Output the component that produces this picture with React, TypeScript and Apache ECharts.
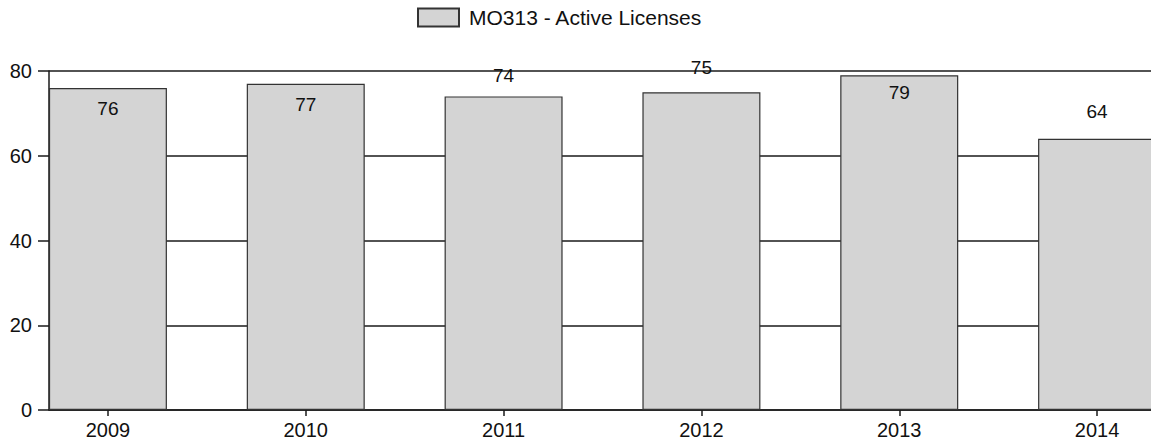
import React, { useEffect, useRef } from "react";
import * as echarts from "echarts";

const years = ["2009", "2010", "2011", "2012", "2013", "2014"];
const activeLicenses = [76, 77, 74, 75, 79, 64];
const seriesName = "MO313 - Active Licenses";
// label placement per bar (inside the bar top or above it), as in the reference
const labelInside = [true, true, false, false, true, false];
const labelDistance = [11, 11, 11, 15, 8, 18];

export default function App() {
  const ref = useRef<HTMLDivElement>(null);
  useEffect(() => {
    if (!ref.current) return;
    const chart = echarts.init(ref.current, undefined, { renderer: "svg" });
    const font = "'Liberation Sans', Arial, sans-serif";
    const black = "#1a1a1a";
    chart.setOption({
      animation: false,
      backgroundColor: "#ffffff",
      textStyle: { fontFamily: font },
      legend: {
        left: 417,
        top: 7,
        padding: 0,
        itemWidth: 41,
        itemHeight: 18,
        icon: "rect",
        textStyle: { fontSize: 21, color: "#111", padding: [0, 0, 0, 5], fontFamily: font },
        data: [seriesName],
      },
      grid: [
        { left: 49, right: 0, top: 71, bottom: 37, outerBoundsMode: "none", containLabel: false },
        { left: 9, right: -45, top: 71, bottom: 37, outerBoundsMode: "none", containLabel: false },
      ],
      xAxis: [
        {
          gridIndex: 0,
          type: "value",
          min: 0,
          max: 1,
          axisLine: { show: true, lineStyle: { color: black, width: 1.5 } },
          axisTick: { show: false },
          axisLabel: { show: false },
          splitLine: { show: false },
        },
        {
          gridIndex: 1,
          type: "category",
          data: years,
          boundaryGap: true,
          axisLine: { show: false },
          axisTick: { show: true, alignWithLabel: true, length: 6, lineStyle: { color: black, width: 1.5 } },
          axisLabel: { fontSize: 20, color: "#111", margin: 10, fontFamily: font },
          splitLine: { show: false },
        },
      ],
      yAxis: [
        {
          gridIndex: 0,
          type: "value",
          min: 0,
          max: 80,
          interval: 20,
          axisLine: { show: true, lineStyle: { color: black, width: 1.5 } },
          axisTick: { show: true, length: 11, lineStyle: { color: black, width: 1.5 } },
          axisLabel: { fontSize: 20, color: "#111", margin: 17, fontFamily: font },
          splitLine: { show: true, lineStyle: { color: black, width: 1.5 } },
        },
        {
          gridIndex: 1,
          type: "value",
          min: 0,
          max: 80,
          show: false,
        },
      ],
      series: [
        {
          name: seriesName,
          type: "bar",
          xAxisIndex: 1,
          yAxisIndex: 1,
          barWidth: 118,
          itemStyle: { color: "#d4d4d4", borderColor: "#333333", borderWidth: 1.2 },
          data: activeLicenses.map((v, i) => ({
            value: v,
            label: {
              show: true,
              position: labelInside[i] ? "insideTop" : "top",
              distance: labelDistance[i],
              fontSize: 19,
              color: "#111",
              fontFamily: font,
            },
          })),
        },
      ],
    });
    return () => chart.dispose();
  }, []);
  return (
    <div
      ref={ref}
      style={{ position: "absolute", left: 0, top: 0, width: 1151, height: 447 }}
    />
  );
}
